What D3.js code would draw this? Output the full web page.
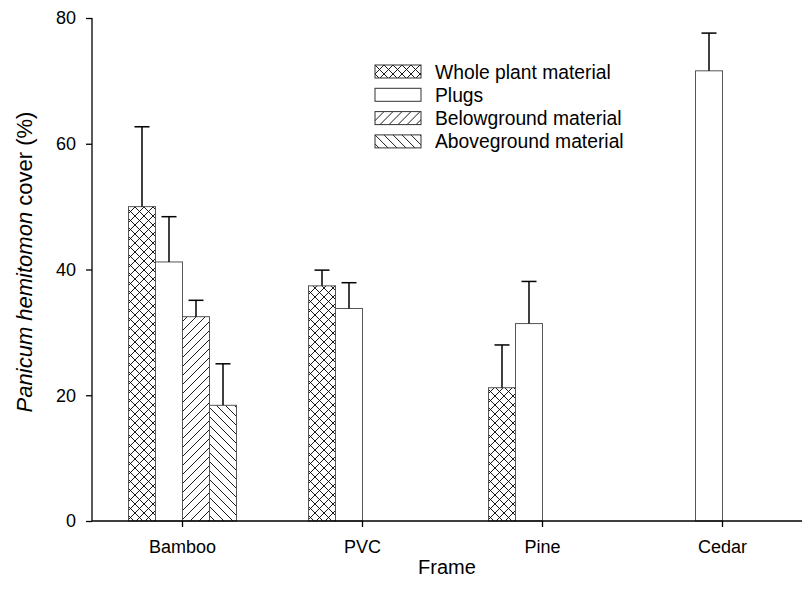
<!DOCTYPE html>
<html>
<head>
<meta charset="utf-8">
<script src="https://cdnjs.cloudflare.com/ajax/libs/d3/7.8.5/d3.min.js"></script>
<style>
  html, body { margin: 0; padding: 0; background: #fff; }
  svg { display: block; font-family: Arial, "Liberation Sans", sans-serif; }
</style>
</head>
<body>
<svg id="chart" width="802" height="603"></svg>
<script>
// Frame types along the x axis
const frames = ["Bamboo", "PVC", "Pine", "Cedar"];
// Planting material series (legend order = slot order within a frame)
const seriesNames = ["Whole plant material", "Plugs", "Belowground material", "Aboveground material"];
const seriesPattern = ["cross", "none", "fwd", "back"];
// Mean cover (%) per frame for each series; null = not tested
const wholePlant   = [50.0, 37.4, 21.2, null];
const plugs        = [41.2, 33.8, 31.4, 71.6];
const belowground  = [32.5, null, null, null];
const aboveground  = [18.4, null, null, null];
// Upper end of the error bar (mean + SE)
const wholePlantErr  = [62.7, 39.9, 28.0, null];
const plugsErr       = [48.4, 37.9, 38.1, 77.6];
const belowgroundErr = [35.1, null, null, null];
const abovegroundErr = [25.0, null, null, null];
const yTicks = [0, 20, 40, 60, 80];

const means = [wholePlant, plugs, belowground, aboveground];
const errs = [wholePlantErr, plugsErr, belowgroundErr, abovegroundErr];

const svg = d3.select("#chart");
const mLeft = 92, mBottom = 521, mTop = 18, mRight = 812.5;

const x = d3.scaleBand().domain(frames).range([mLeft + 0.5, mRight]).padding(0);
const y = d3.scaleLinear().domain([0, 80]).range([mBottom, mTop]);
const slot = d3.scaleBand().domain(d3.range(4)).range([-54, 54]).padding(0);

// Hatch patterns
const defs = svg.append("defs");
function hatch(id, paths) {
  const p = defs.append("pattern").attr("id", id)
    .attr("patternUnits", "userSpaceOnUse").attr("width", 9).attr("height", 9);
  p.append("rect").attr("width", 9).attr("height", 9).attr("fill", "#fff");
  paths.forEach(d => p.append("path").attr("d", d)
    .attr("stroke", "#000").attr("stroke-width", 0.9).attr("fill", "none"));
}
hatch("pat-cross", ["M-1,10 L10,-1", "M-1,-1 L10,10", "M-2,1 L1,-2", "M8,11 L11,8", "M-2,8 L1,11", "M8,-2 L11,1"]);
hatch("pat-fwd", ["M-1,10 L10,-1", "M-2,1 L1,-2", "M8,11 L11,8"]);
hatch("pat-back", ["M-1,-1 L10,10", "M-2,8 L1,11", "M8,-2 L11,1"]);
const fillFor = k => k === "none" ? "#fff" : `url(#pat-${k})`;

// Bars
const barData = [];
means.forEach((vals, s) => vals.forEach((v, i) => {
  if (v != null) barData.push({ s, frame: frames[i], v, e: errs[s][i] });
}));

const bx = d => x(d.frame) + x.bandwidth() / 2 + slot(d.s);

svg.append("g").selectAll("rect").data(barData).join("rect")
  .attr("x", bx)
  .attr("y", d => y(d.v))
  .attr("width", slot.bandwidth())
  .attr("height", d => y(0) - y(d.v))
  .attr("fill", d => fillFor(seriesPattern[d.s]))
  .attr("stroke", "#555")
  .attr("stroke-width", 1);

// Error bars (upper only)
const eb = svg.append("g").attr("stroke", "#000").attr("stroke-width", 1.5);
barData.forEach(d => {
  const cx = bx(d) + slot.bandwidth() / 2;
  eb.append("line").attr("x1", cx).attr("x2", cx).attr("y1", y(d.v)).attr("y2", y(d.e));
  eb.append("line").attr("x1", cx - 7.5).attr("x2", cx + 7.5).attr("y1", y(d.e)).attr("y2", y(d.e));
});

// Axes
const yAxis = svg.append("g").attr("transform", `translate(${mLeft},0)`)
  .call(d3.axisLeft(y).tickValues(yTicks).tickSize(6).tickPadding(10));
const xAxis = svg.append("g").attr("transform", `translate(0,${mBottom})`)
  .call(d3.axisBottom(x).tickSize(6).tickPadding(13));
[yAxis, xAxis].forEach(g => {
  g.select(".domain").attr("stroke", "#000").attr("stroke-width", 1.3);
  g.selectAll(".tick line").attr("stroke", "#000").attr("stroke-width", 1.3);
  g.selectAll(".tick text").attr("font-size", 18).attr("fill", "#000")
    .attr("font-family", "Arial, 'Liberation Sans', sans-serif");
});
xAxis.select(".domain").attr("d", `M${mLeft},0H${mRight}`);
yAxis.select(".domain").attr("d", `M0,${mTop}V${mBottom}`);

// Axis titles
svg.append("text").attr("x", 447).attr("y", 574).attr("text-anchor", "middle")
  .attr("font-size", 20).text("Frame");
const yt = svg.append("text").attr("transform", `translate(32,262) rotate(-90)`)
  .attr("text-anchor", "middle").attr("font-size", 22);
yt.append("tspan").attr("font-style", "italic").text("Panicum hemitomon");
yt.append("tspan").text(" cover (%)");

// Legend
const lg = svg.append("g").attr("transform", "translate(375,65)");
seriesNames.forEach((name, i) => {
  const row = lg.append("g").attr("transform", `translate(0,${i * 23.3})`);
  row.append("rect").attr("width", 46).attr("height", 13)
    .attr("fill", fillFor(seriesPattern[i])).attr("stroke", "#333").attr("stroke-width", 1);
  row.append("text").attr("x", 60).attr("y", 13.5).attr("font-size", 19.3).text(name);
});
</script>
</body>
</html>
